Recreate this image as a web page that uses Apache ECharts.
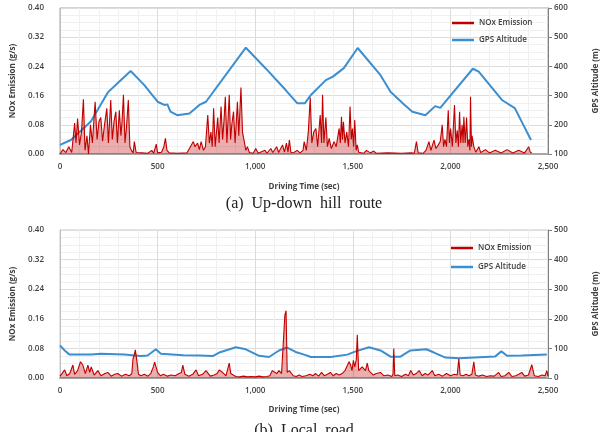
<!DOCTYPE html>
<html>
<head>
<meta charset="utf-8">
<script src="https://cdn.jsdelivr.net/npm/echarts@6/dist/echarts.min.js"></script>
<style>
  html, body { margin: 0; padding: 0; background: #fff; }
  #chart { width: 608px; height: 432px; }
</style>
</head>
<body>
<div id="chart"></div>
<script>
// (a) up-down hill route
var noxTimeA = [
  0,15,30,45,60,75,82,90,100,110,
  120,128,138,146,156,166,180,190,200,209,
  218,228,240,248,260,268,277,286,294,304,
  312,318,325,333,340,350,358,366,375,381,
  390,420,450,470,480,493,500,520,532,540,
  548,560,600,650,683,692,705,714,723,735,
  745,757,765,773,780,787,795,808,815,825,
  833,840,847,855,867,874,880,889,897,909,
  916,927,935,944,952,960,970,990,1003,1015,
  1050,1060,1080,1090,1110,1120,1140,1150,1160,1168,
  1175,1183,1200,1215,1230,1245,1251,1262,1272,1282,
  1290,1300,1311,1320,1333,1340,1345,1352,1362,1370,
  1379,1390,1404,1415,1430,1436,1442,1447,1452,1460,
  1469,1478,1486,1492,1498,1504,1510,1517,1523,1530,
  1540,1555,1570,1590,1607,1620,1680,1750,1800,1815,
  1826,1835,1860,1875,1890,1900,1916,1926,1938,1948,
  1958,1965,1972,1980,1989,1995,2001,2010,2021,2028,
  2035,2041,2047,2053,2060,2065,2069,2076,2083,2089,
  2095,2100,2103,2108,2111,2120,2130,2146,2155,2180,
  2200,2230,2260,2290,2320,2350,2380,2401,2410,2418
];
var noxA = [
  0,0.012,0.004,0.02,0.004,0.085,0.03,0.097,0.025,0.06,
  0.15,0.01,0.05,0.0,0.08,0.03,0.143,0.04,0.09,0.10,
  0.035,0.08,0.125,0.03,0.148,0.04,0.09,0.116,0.03,0.12,
  0.05,0.09,0.162,0.03,0.07,0.148,0.02,0.01,0.003,0.034,
  0.004,0.003,0.002,0.01,0.002,0.027,0.003,0.005,0.02,0.043,
  0.01,0.003,0.002,0.003,0.034,0.02,0.03,0.012,0.034,0.01,
  0.02,0.107,0.03,0.06,0.02,0.125,0.02,0.10,0.03,0.13,
  0.04,0.09,0.157,0.03,0.162,0.04,0.08,0.116,0.03,0.143,
  0.05,0.182,0.06,0.034,0.01,0.02,0.004,0.002,0.015,0.002,
  0.01,0.002,0.015,0.004,0.02,0.004,0.025,0.005,0.03,0.005,
  0.038,0.004,0.005,0.01,0.003,0.01,0.034,0.01,0.06,0.155,
  0.03,0.06,0.07,0.02,0.107,0.03,0.162,0.03,0.1,0.02,
  0.043,0.015,0.034,0.02,0.07,0.03,0.102,0.04,0.088,0.03,
  0.06,0.02,0.13,0.04,0.07,0.02,0.093,0.01,0.025,0.005,
  0.008,0.002,0.01,0.003,0.008,0.002,0.003,0.002,0.003,0.002,
  0.034,0.003,0.002,0.01,0.034,0.01,0.038,0.015,0.025,0.034,
  0.08,0.02,0.04,0.02,0.12,0.03,0.07,0.02,0.134,0.03,
  0.065,0.02,0.116,0.03,0.08,0.03,0.102,0.03,0.1,0.02,
  0.04,0.01,0.157,0.02,0.05,0.02,0.005,0.02,0.004,0.012,
  0.003,0.01,0.003,0.012,0.003,0.01,0.003,0.02,0.004,0.003
];
var altTimeA = [0,56,158,245,296,362,432,500,534,550,566,600,663,714,748,952,1054,1156,1215,1255,
  1285,1362,1398,1454,1525,1642,1693,1760,1805,1872,1922,1948,2115,2145,2264,2330,2413];
var altA = [131,148,211,311,343,384,336,279,268,270,245,233,239,268,279,464,393,319,274,274,
  302,353,365,394,463,370,313,271,245,233,264,258,392,382,285,257,148];

// (b) local road
var noxTimeB = [
  0,10,24,35,50,66,75,90,105,117,
  130,143,152,160,175,194,210,230,245,262,
  280,296,315,335,355,368,374,380,386,394,
  402,415,432,450,465,478,485,491,500,515,
  530,550,570,590,610,622,629,640,660,680,
  697,710,730,748,770,790,805,816,833,850,
  867,875,884,900,920,940,960,980,1000,1020,
  1040,1060,1075,1088,1097,1110,1122,1135,1145,1152,
  1158,1164,1175,1182,1195,1210,1225,1240,1260,1280,
  1295,1310,1325,1340,1355,1370,1385,1400,1415,1430,
  1445,1460,1470,1481,1489,1496,1503,1510,1518,1523,
  1530,1540,1548,1557,1565,1574,1582,1591,1605,1620,
  1642,1660,1680,1700,1706,1710,1715,1730,1750,1770,
  1785,1797,1810,1825,1840,1855,1870,1885,1907,1920,
  1940,1960,1980,2000,2020,2035,2043,2050,2065,2080,
  2095,2110,2120,2128,2145,2165,2185,2205,2225,2247,
  2260,2280,2299,2315,2335,2350,2366,2380,2400,2417,
  2430,2450,2470,2485,2494,2500
];
var noxB = [
  0.005,0.012,0.022,0.006,0.012,0.035,0.01,0.02,0.044,0.035,
  0.012,0.035,0.015,0.03,0.008,0.02,0.006,0.012,0.015,0.005,
  0.01,0.012,0.005,0.01,0.006,0.012,0.052,0.062,0.076,0.045,
  0.01,0.006,0.01,0.005,0.012,0.03,0.043,0.044,0.015,0.006,
  0.01,0.005,0.008,0.006,0.012,0.015,0.035,0.01,0.005,0.01,
  0.022,0.006,0.01,0.02,0.005,0.008,0.012,0.022,0.015,0.006,
  0.04,0.012,0.01,0.004,0.003,0.005,0.003,0.004,0.003,0.005,
  0.003,0.004,0.006,0.02,0.015,0.012,0.02,0.012,0.01,0.17,
  0.182,0.015,0.02,0.015,0.006,0.004,0.008,0.004,0.006,0.01,
  0.006,0.012,0.005,0.015,0.006,0.01,0.015,0.006,0.012,0.008,
  0.012,0.02,0.015,0.044,0.035,0.02,0.048,0.03,0.05,0.117,
  0.02,0.015,0.03,0.035,0.02,0.04,0.02,0.025,0.008,0.012,
  0.015,0.006,0.008,0.004,0.01,0.08,0.006,0.008,0.004,0.01,
  0.006,0.02,0.008,0.012,0.02,0.006,0.012,0.008,0.02,0.006,
  0.01,0.005,0.012,0.006,0.01,0.008,0.052,0.008,0.006,0.01,
  0.006,0.01,0.044,0.008,0.005,0.008,0.004,0.006,0.005,0.015,
  0.004,0.006,0.015,0.004,0.006,0.01,0.015,0.005,0.008,0.036,
  0.006,0.004,0.008,0.006,0.02,0.005
];
var altTimeB = [0,24,49,100,158,209,330,413,449,491,517,632,714,782,816,901,952,1020,1071,1122,
  1164,1207,1255,1285,1387,1472,1515,1583,1642,1693,1744,1795,1877,1916,1975,2043,2230,2261,2290,2366,2494];
var altB = [110,93,79,79,79,82,79,74,76,97,82,77,76,74,86,104,97,75,71,93,
  103,88,78,71,71,79,90,104,93,72,72,93,97,86,69,67,73,90,75,76,79];

function pairs(xs, ys) {
  var res = [];
  for (var i = 0; i < xs.length; i++) res.push([xs[i], ys[i]]);
  return res;
}

var chart = echarts.init(document.getElementById('chart'));
var labelStyle = { fontFamily: 'Open Sans', fontSize: 8, fontWeight: 600, color: '#404040' };
var nameStyle = { fontFamily: 'Open Sans', fontSize: 8, fontWeight: 700, color: '#404040' };
var gridLine = { show: true, lineStyle: { color: '#dcdcdc', width: 1 } };
var minorLine = { show: true, lineStyle: { color: '#f0f0f0', width: 1 } };
var lineIcon = 'path://M0,0 L22,0 L22,2.5 L0,2.5 Z';

function xAxisFor(idx) {
  return {
    type: 'value', gridIndex: idx, min: 0, max: 2500, interval: 500,
    name: 'Driving Time (sec)', nameLocation: 'middle', nameGap: idx ? 28 : 29,
    nameTextStyle: nameStyle,
    axisLine: { lineStyle: { color: '#a6a6a6', width: 2 } },
    axisTick: { show: false },
    axisLabel: Object.assign({ margin: 9, formatter: function (v) { return v.toLocaleString('en-US'); } }, labelStyle),
    splitLine: gridLine,
    minorTick: { show: false, splitNumber: 5 },
    minorSplitLine: minorLine
  };
}
function leftAxisFor(idx) {
  return {
    type: 'value', gridIndex: idx, min: 0, max: 0.4, interval: 0.08,
    name: 'NOx Emission (g/s)', nameLocation: 'middle', nameGap: 42, nameRotate: 90,
    nameTextStyle: nameStyle,
    axisLine: { show: true, lineStyle: { color: '#bfbfbf', width: 1 } },
    axisTick: { show: false },
    axisLabel: Object.assign({ margin: 16, formatter: function (v) { return v.toFixed(2); } }, labelStyle),
    splitLine: gridLine,
    minorTick: { show: false, splitNumber: 4 },
    minorSplitLine: minorLine
  };
}
function rightAxisFor(idx, lo, hi) {
  return {
    type: 'value', gridIndex: idx, position: 'right', min: lo, max: hi, interval: 100,
    name: 'GPS Altitude (m)', nameLocation: 'middle', nameGap: 44, nameRotate: 90,
    nameTextStyle: nameStyle,
    axisLine: { show: true, lineStyle: { color: '#7f7f7f', width: 1 } },
    axisTick: { show: true, length: 4, lineStyle: { color: '#7f7f7f' } },
    axisLabel: Object.assign({ margin: 6 }, labelStyle),
    splitLine: { show: false }
  };
}
function noxSeries(name, xi, yi, data) {
  return {
    name: name, type: 'line', xAxisIndex: xi, yAxisIndex: yi, showSymbol: false,
    lineStyle: { color: '#c00000', width: 1.1 }, itemStyle: { color: '#c00000' },
    areaStyle: { color: 'rgba(192,0,0,0.45)' },
    data: data, z: 3
  };
}
function altSeries(name, xi, yi, data) {
  return {
    name: name, type: 'line', xAxisIndex: xi, yAxisIndex: yi, showSymbol: false,
    lineStyle: { color: '#3b8ed0', width: 2 }, itemStyle: { color: '#3b8ed0' },
    data: data, z: 2
  };
}
var legendText = { fontFamily: 'Open Sans', fontSize: 8, fontWeight: 600, color: '#404040' };

chart.setOption({
  animation: false,
  backgroundColor: '#ffffff',
  title: [
    { text: '(a)  Up-down  hill  route', left: 'center', top: 191,
      textStyle: { fontFamily: 'Liberation Serif', fontSize: 16, fontWeight: 'normal', color: '#222' } },
    { text: '(b)  Local  road', left: 'center', top: 418,
      textStyle: { fontFamily: 'Liberation Serif', fontSize: 16, fontWeight: 'normal', color: '#222' } }
  ],
  legend: [
    { orient: 'vertical', left: 447, top: 14, itemWidth: 22, itemHeight: 3, itemGap: 9,
      icon: lineIcon, textStyle: legendText,
      data: [
        { name: 'NOx Emission', itemStyle: { color: '#c00000' } },
        { name: 'GPS Altitude', itemStyle: { color: '#3b8ed0' } }
      ] },
    { orient: 'vertical', left: 446, top: 239, itemWidth: 22, itemHeight: 3, itemGap: 11,
      icon: lineIcon, textStyle: legendText,
      data: [
        { name: 'NOx Emission ', itemStyle: { color: '#c00000' } },
        { name: 'GPS Altitude ', itemStyle: { color: '#3b8ed0' } }
      ] }
  ],
  grid: [
    { left: 60, top: 8, width: 490, height: 146, show: true, borderColor: '#a6a6a6', borderWidth: 1 },
    { left: 60, top: 230, width: 491, height: 148, show: true, borderColor: '#c8c8c8', borderWidth: 1 }
  ],
  xAxis: [xAxisFor(0), xAxisFor(1)],
  yAxis: [leftAxisFor(0), rightAxisFor(0, 100, 600), leftAxisFor(1), rightAxisFor(1, 0, 500)],
  series: [
    noxSeries('NOx Emission', 0, 0, pairs(noxTimeA, noxA)),
    altSeries('GPS Altitude', 0, 1, pairs(altTimeA, altA)),
    noxSeries('NOx Emission ', 1, 2, pairs(noxTimeB, noxB)),
    altSeries('GPS Altitude ', 1, 3, pairs(altTimeB, altB))
  ]
});
</script>
</body>
</html>
